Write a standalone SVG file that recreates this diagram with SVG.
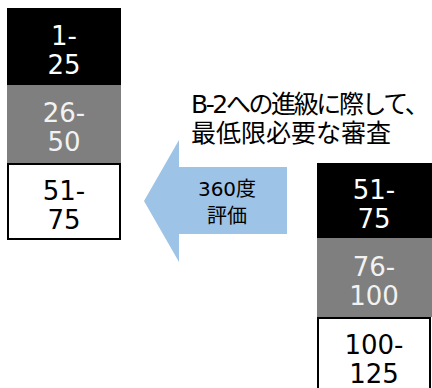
<svg xmlns="http://www.w3.org/2000/svg" width="432" height="388" viewBox="0 0 432 388">
<style>
text{font-family:"DejaVu Sans","Noto Sans CJK JP",sans-serif;text-anchor:middle}
.num{font-size:26px}
.blk{fill:#000}
.gry{fill:#7f7f7f}
.wht{fill:#fff;stroke:#000;stroke-width:2}
.tw{fill:#fff}
.tg{fill:#f2f2f2}
.tb{fill:#000}
.ttl{font-size:25px;text-anchor:start}
</style>
<rect width="432" height="388" fill="#fff"/>
<g id="left-1-25"><rect class="blk" x="7" y="8" width="114" height="77"/><text class="num tw" x="64" y="45">1-</text><text class="num tw" x="64" y="74">25</text></g>
<g id="left-26-50"><rect class="gry" x="7" y="85" width="114" height="78"/><text class="num tg" x="64" y="122">26-</text><text class="num tg" x="64" y="151">50</text></g>
<g id="left-51-75"><rect class="wht" x="8" y="164" width="112" height="75"/><text class="num tb" x="64" y="200">51-</text><text class="num tb" x="64" y="229">75</text></g>
<g id="right-51-75"><rect class="blk" x="317" y="163" width="115" height="75"/><text class="num tw" x="374" y="199">51-</text><text class="num tw" x="374" y="228">75</text></g>
<g id="right-76-100"><rect class="gry" x="317" y="238" width="115" height="79"/><text class="num tg" x="374" y="276">76-</text><text class="num tg" x="374" y="305">100</text></g>
<g id="right-100-125"><rect class="wht" x="318" y="318" width="112" height="80"/><text class="num tb" x="374" y="354">100-</text><text class="num tb" x="374" y="383">125</text></g>
<g id="connectors"><polygon points="144,201 179,140 179,167 287,167 287,234 179,234 179,262" fill="#9dc3e6"/></g>
<g id="arrow-label"><text x="227" y="196" font-size="20" fill="#000">360度</text><text x="227" y="223" font-size="20" fill="#000">評価</text></g>
<g id="title"><text class="ttl" x="191" y="113" letter-spacing="-2.4">B-2への進級に際して、</text><text class="ttl" x="191" y="142">最低限必要な審査</text></g>
</svg>
